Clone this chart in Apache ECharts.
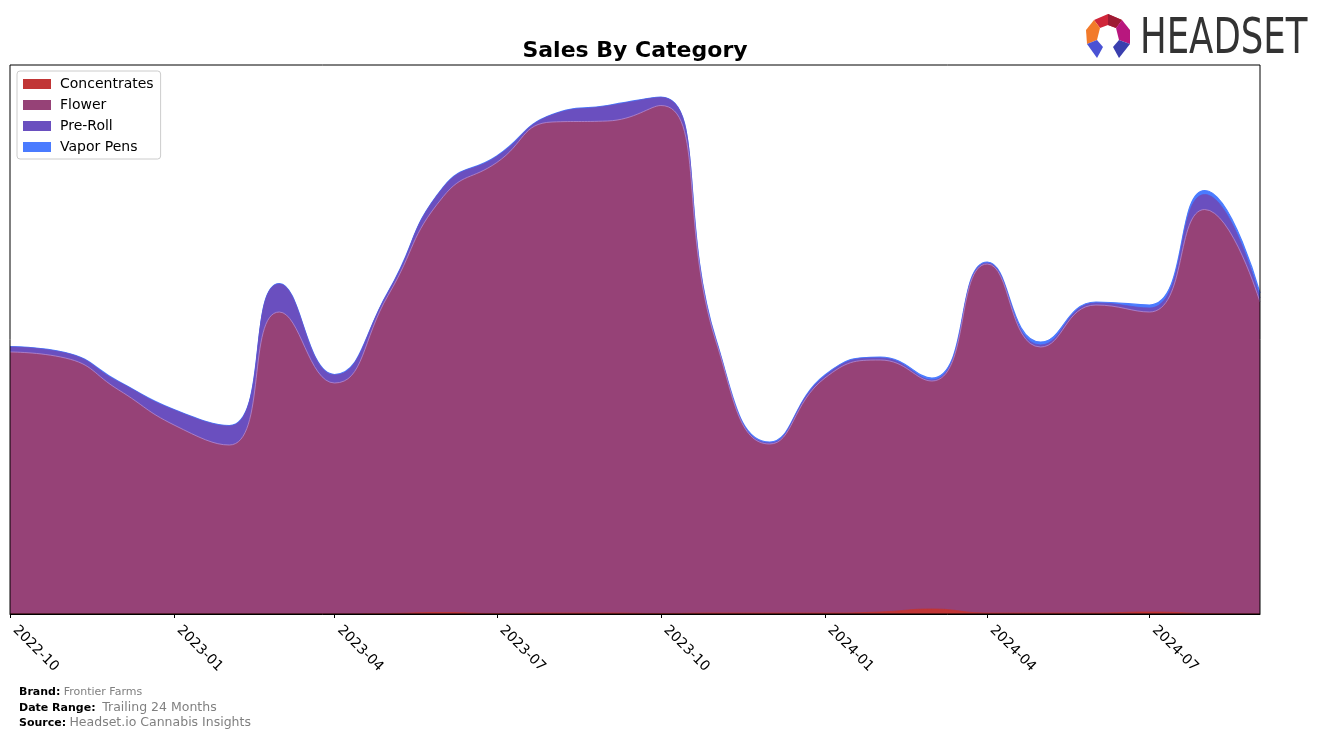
<!DOCTYPE html>
<html>
<head>
<meta charset="utf-8">
<script src="https://cdn.jsdelivr.net/npm/echarts@6/dist/echarts.min.js"></script>
<style>
html,body{margin:0;padding:0;background:#fff;}
#chart{width:1324px;height:739px;}
</style>
</head>
<body>
<div id="chart"></div>
<script>
// ---- data (relative sales units) ----
const months = ['2022-10','2022-11','2022-12','2023-01','2023-02','2023-03','2023-04','2023-05','2023-06','2023-07','2023-08','2023-09',
                '2023-10','2023-11','2023-12','2024-01','2024-02','2024-03','2024-04','2024-05','2024-06','2024-07','2024-08','2024-09'];
const concentrates = [0, 0, 0, 0, 0, 0, 0, 0.5, 1.5, 0.5, 1, 1, 0.5, 1, 1, 1, 2, 5, 1, 1, 1, 2, 0.5, 0];
const flower       = [262, 256, 224, 189, 169, 302, 231, 318, 416, 451, 491, 492, 508, 271, 169, 235, 252, 228, 349, 266, 308, 300, 404, 312];
const preRoll      = [5, 5, 8, 15, 19, 28, 8, 3, 9, 6, 7, 15, 8, 1, 1, 2, 2, 1, 1, 2, 2, 4, 15, 4];
const vaporPens    = [0.5, 0.5, 0.5, 0.5, 0.5, 0.5, 0.5, 0.5, 0.5, 0.5, 0.5, 0.5, 0.5, 1, 1, 1, 1, 2, 1, 3, 1, 3, 4, 5];
const tickMonths   = ['2022-10','2023-01','2023-04','2023-07','2023-10','2024-01','2024-04','2024-07'];
const seriesNames  = ['Concentrates','Flower','Pre-Roll','Vapor Pens'];
const seriesColors = ['#c13535','#964277','#6a4fbf','#4a7bff'];

// x position = days since the first month (a true date scale)
const DAY = 86400000;
function utc(m){ const p = m.split('-'); return Date.UTC(+p[0], +p[1]-1, 1); }
const T0 = utc(months[0]);
function dayOf(m){ return Math.round((utc(m) - T0) / DAY); }
function labelOf(d){ const dt = new Date(T0 + d * DAY); const mo = dt.getUTCMonth()+1; return dt.getUTCFullYear() + '-' + (mo<10?'0':'') + mo; }
const seriesData = [concentrates, flower, preRoll, vaporPens];
// stacked tops (cumulative sums, bottom to top)
const stacked = seriesData.map((arr, k) => arr.map((v, i) => {
  let s = 0; for (let j = 0; j <= k; j++) s += seriesData[j][i]; return [dayOf(months[i]), s];
}));
const tickDays = tickMonths.map(dayOf);

const chart = echarts.init(document.getElementById('chart'), null, {renderer:'canvas'});
const FONT = 'DejaVu Sans';

const option = {
  animation: false,
  backgroundColor: '#ffffff',
  textStyle: {fontFamily: FONT},
  grid: {left: 10, right: 64, top: 65, bottom: 125, show: true, borderColor: '#000', borderWidth: 1, backgroundColor: 'transparent', containLabel: false, z: 10},
  legend: {
    orient: 'vertical', left: 17, top: 71, z: 20,
    data: seriesNames,
    icon: 'rect', itemWidth: 28, itemHeight: 10, itemGap: 7,
    padding: [6, 7, 5, 6],
    borderColor: '#cccccc', borderWidth: 1, borderRadius: 3, backgroundColor: '#fff',
    textStyle: {fontFamily: FONT, fontSize: 14, color: '#000', padding: [0,0,0,4]}
  },
  xAxis: {
    type: 'value',
    min: 0, max: dayOf(months[months.length-1]),
    splitLine: {show: false},
    axisLine: {show: true, lineStyle: {color: '#000', width: 1}},
    axisTick: {show: true, length: 4, lineStyle: {color: '#000'}, customValues: tickDays},
    axisLabel: {
      customValues: tickDays,
      rotate: -45, margin: 9, padding: [0,0,0,7], fontFamily: FONT, fontSize: 14, color: '#000',
      formatter: function(v){ return labelOf(v); }
    },
    z: 11
  },
  yAxis: {type: 'value', min: 0, max: 549, show: false, splitLine: {show: false}},
  series: seriesNames.map((name, i) => ({
    name: name, type: 'line', smooth: 0.5, symbol: 'none',
    data: stacked[i],
    itemStyle: {color: seriesColors[i]},
    lineStyle: {width: i === 3 ? 1.2 : 0.8, color: i === 1 ? '#b48ad0' : seriesColors[i]},
    areaStyle: {color: seriesColors[i], opacity: 1, origin: 'start'},
    z: 8 - i
  })),
  graphic: [
    {type: 'text', x: 635, y: 51, style: {text: 'Sales By Category', font: 'bold 22px "DejaVu Sans"', fill: '#000', align: 'center', verticalAlign: 'middle'}},
    // footer
    {type: 'text', x: 19, y: 692, style: {text: '{b|Brand:} {g|Frontier Farms}', verticalAlign: 'middle', rich: {b: {fontFamily: FONT, fontWeight: 'bold', fontSize: 11, fill: '#000'}, g: {fontFamily: FONT, fontSize: 11, fill: '#808080'}}}},
    {type: 'text', x: 19, y: 708, style: {text: '{b|Date Range:}  {g|Trailing 24 Months}', verticalAlign: 'middle', rich: {b: {fontFamily: FONT, fontWeight: 'bold', fontSize: 11, fill: '#000'}, g: {fontFamily: FONT, fontSize: 12.5, fill: '#808080'}}}},
    {type: 'text', x: 19, y: 723, style: {text: '{b|Source:} {g|Headset.io Cannabis Insights}', verticalAlign: 'middle', rich: {b: {fontFamily: FONT, fontWeight: 'bold', fontSize: 11, fill: '#000'}, g: {fontFamily: FONT, fontSize: 12.5, fill: '#808080'}}}},
    // logo icon
    {type: 'polygon', shape: {points: [[1094,20],[1108,14],[1122,20],[1116,28],[1108,25],[1100,28]]}, style: {fill: '#d0263a'}},
    {type: 'polygon', shape: {points: [[1108,14],[1122,20],[1116,28],[1108,25]]}, style: {fill: '#9e1a34'}},
    {type: 'polygon', shape: {points: [[1094,20],[1100,28],[1097,40],[1087,44],[1086,30]]}, style: {fill: '#f27a2a'}},
    {type: 'polygon', shape: {points: [[1122,20],[1130,30],[1130,44],[1119,40],[1116,28]]}, style: {fill: '#b8177e'}},
    {type: 'polygon', shape: {points: [[1087,44],[1097,40],[1103,47],[1097,58]]}, style: {fill: '#4a52d4'}},
    {type: 'polygon', shape: {points: [[1130,44],[1119,40],[1113,47],[1119,58]]}, style: {fill: '#3a3fae'}},
    {type: 'text', x: 1140, y: 40, scaleX: 0.71, style: {text: 'HEADSET', font: '50px "DejaVu Sans"', fill: '#333333', align: 'left', verticalAlign: 'middle'}}
  ]
};
chart.setOption(option);
</script>
</body>
</html>
